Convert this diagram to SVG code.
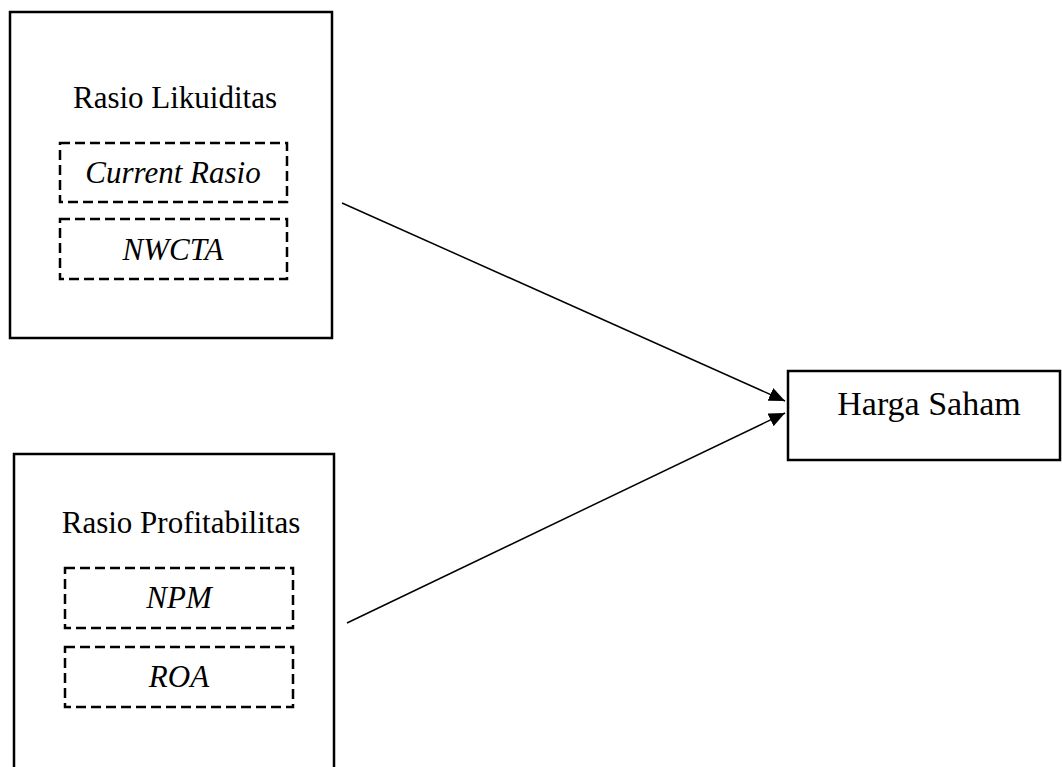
<svg xmlns="http://www.w3.org/2000/svg" width="1062" height="767" viewBox="0 0 1062 767">
<style>
.box{fill:#fff;stroke:#000;stroke-width:2.5}
.dash{fill:none;stroke:#000;stroke-width:2.5;stroke-dasharray:10 5}
.t{font-family:"Liberation Serif","Times New Roman",serif;font-size:31px;fill:#000;text-anchor:middle}
.i{font-style:italic}
.conn{stroke:#000;stroke-width:1.5;fill:none;marker-end:url(#ah)}
</style>
<defs>
<marker id="ah" viewBox="0 0 10 10" refX="10" refY="5" markerWidth="16" markerHeight="14" markerUnits="userSpaceOnUse" orient="auto" preserveAspectRatio="none">
<path d="M0,0 L10,5 L0,10 Z" fill="#000"/>
</marker>
</defs>
<rect width="1062" height="767" fill="#fff"/>
<g id="likuiditas">
<rect class="box" x="10" y="12" width="322" height="326"/>
<text class="t" x="175" y="108">Rasio Likuiditas</text>
<rect class="dash" x="60" y="143" width="227" height="59"/>
<text class="t i" x="173" y="183">Current Rasio</text>
<rect class="dash" x="60" y="219" width="227" height="60"/>
<text class="t i" x="173" y="260">NWCTA</text>
</g>
<g id="profitabilitas">
<rect class="box" x="14" y="454" width="320" height="330"/>
<text class="t" x="181" y="533">Rasio Profitabilitas</text>
<rect class="dash" x="65" y="568" width="228" height="60"/>
<text class="t i" x="179" y="608">NPM</text>
<rect class="dash" x="65" y="647" width="228" height="60"/>
<text class="t i" x="179" y="687">ROA</text>
</g>
<g id="harga">
<rect class="box" x="788" y="371" width="272" height="89"/>
<text class="t" x="929" y="415" style="font-size:34px">Harga Saham</text>
</g>
<g id="connectors">
<line class="conn" x1="342" y1="203" x2="785" y2="401"/>
<line class="conn" x1="347" y1="623" x2="785" y2="413"/>
</g>
</svg>
